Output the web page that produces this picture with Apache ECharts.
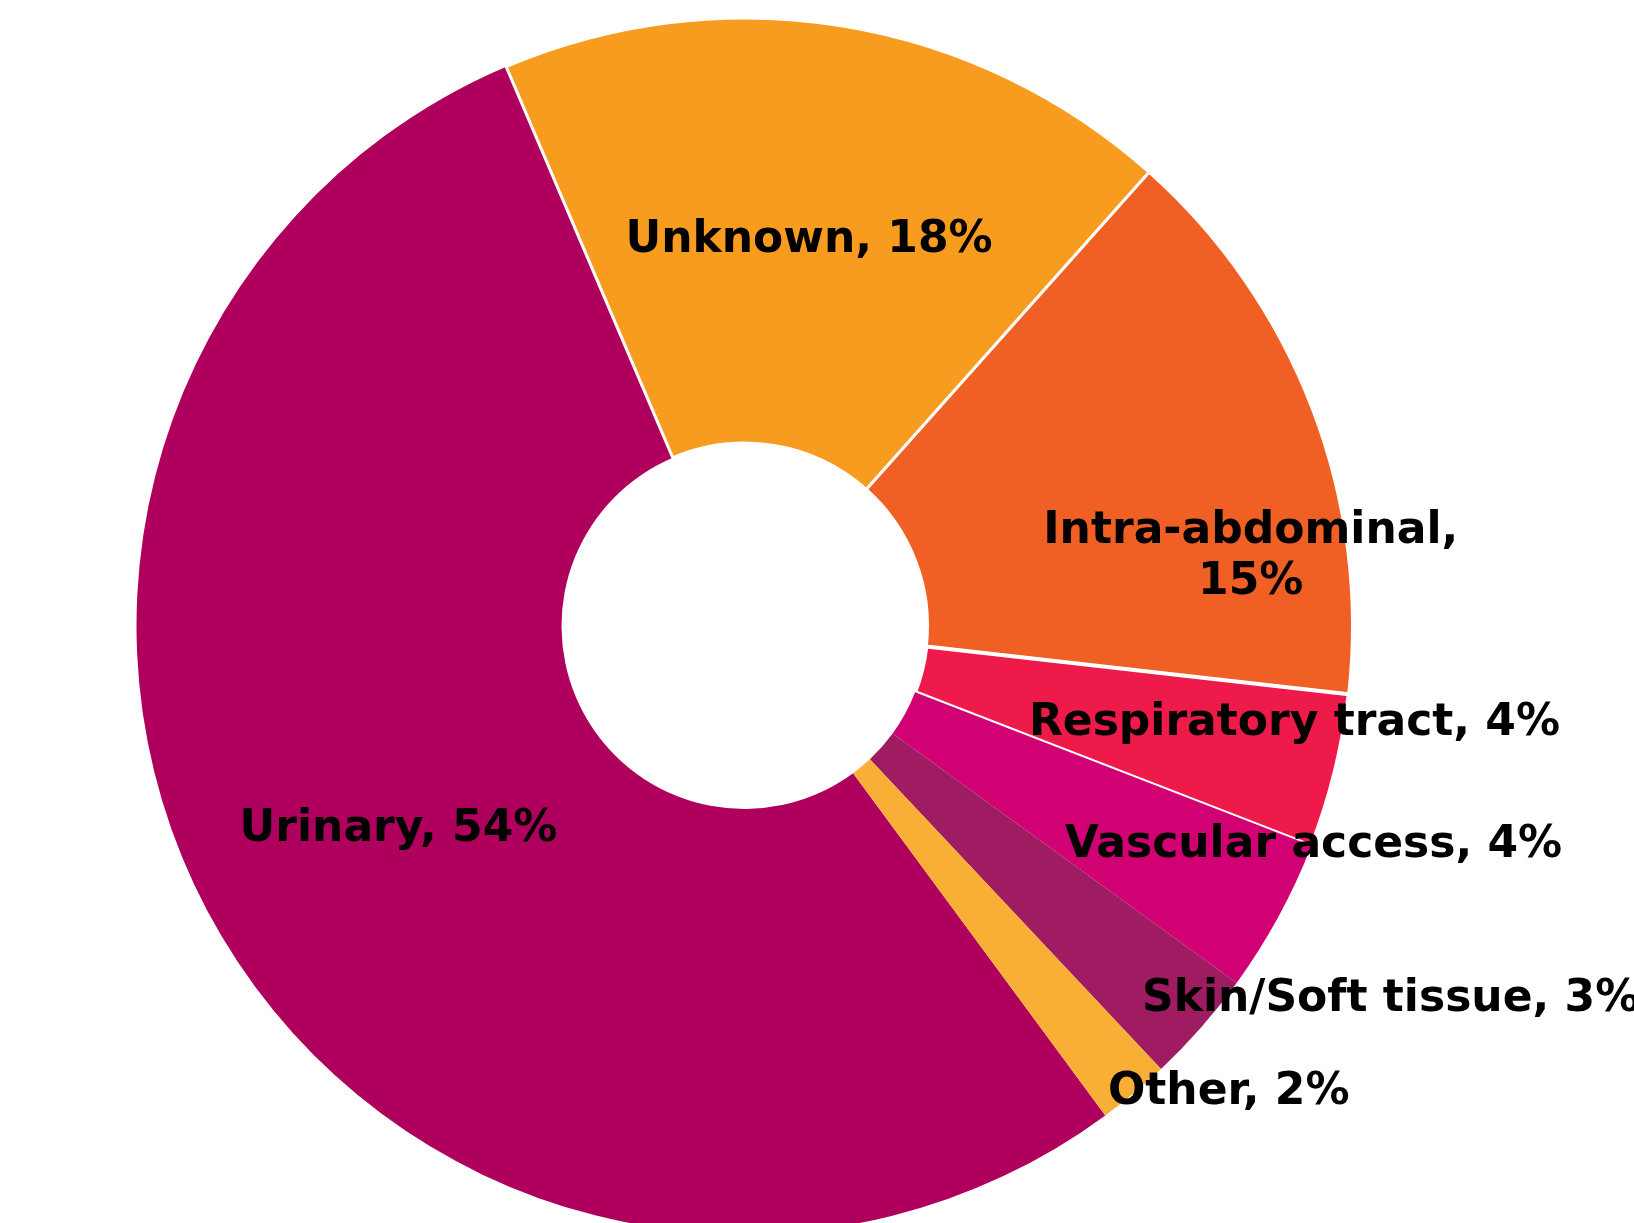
<!DOCTYPE html>
<html>
<head>
<meta charset="utf-8">
<script src="https://cdn.jsdelivr.net/npm/echarts@6/dist/echarts.min.js"></script>
<style>
  html, body { margin: 0; padding: 0; background: #ffffff; }
  #chart { width: 1634px; height: 1223px; }
</style>
</head>
<body>
<div id="chart"></div>
<script>
// Data (clockwise, starting with Urinary)
const categories = ['Urinary', 'Unknown', 'Intra-abdominal', 'Respiratory tract', 'Vascular access', 'Skin/Soft tissue', 'Other'];
const values = [53.7, 18.0, 15.2, 4.1, 4.1, 3.0, 1.9];
const colors = ['#B0005E', '#F89C20', '#F06024', '#EE1A4A', '#D10073', '#A01C62', '#F9AE35'];
const lineBreakAfterName = ['Intra-abdominal'];
const whiteBorderWidths = [0, 3, 3, 4, 0, 0, 0];
// label nudges relative to the library's 'inside' label position
const labelNudges = [[0, 6], [0, 8], [134, 73], [163, 2], [219, 29], [347, 110], [229, 160]];

const chart = echarts.init(document.getElementById('chart'), null, { renderer: 'canvas' });

const seriesData = categories.map((name, i) => ({
  name: name,
  value: values[i],
  itemStyle: {
    color: colors[i],
    borderColor: '#ffffff',
    borderWidth: whiteBorderWidths[i]
  }
}));

chart.setOption({
  backgroundColor: '#ffffff',
  animation: false,
  series: [{
    type: 'pie',
    center: [744.5, 626],
    radius: [183, 608],
    startAngle: -53.6,
    clockwise: true,
    avoidLabelOverlap: false,
    silent: true,
    data: seriesData,
    label: {
      show: true,
      position: 'inside',
      color: '#000000',
      fontFamily: 'DejaVu Sans',
      fontWeight: 'bold',
      fontSize: 44,
      lineHeight: 51,
      align: 'center',
      formatter: function (p) {
        const sep = lineBreakAfterName.indexOf(p.name) >= 0 ? ',\n' : ', ';
        return p.name + sep + Math.round(p.percent) + '%';
      }
    },
    labelLine: { show: false },
    labelLayout: function (params) {
      const n = labelNudges[params.dataIndex];
      return { dx: n[0], dy: n[1] };
    },
    emphasis: { disabled: true }
  }]
});
</script>
</body>
</html>
